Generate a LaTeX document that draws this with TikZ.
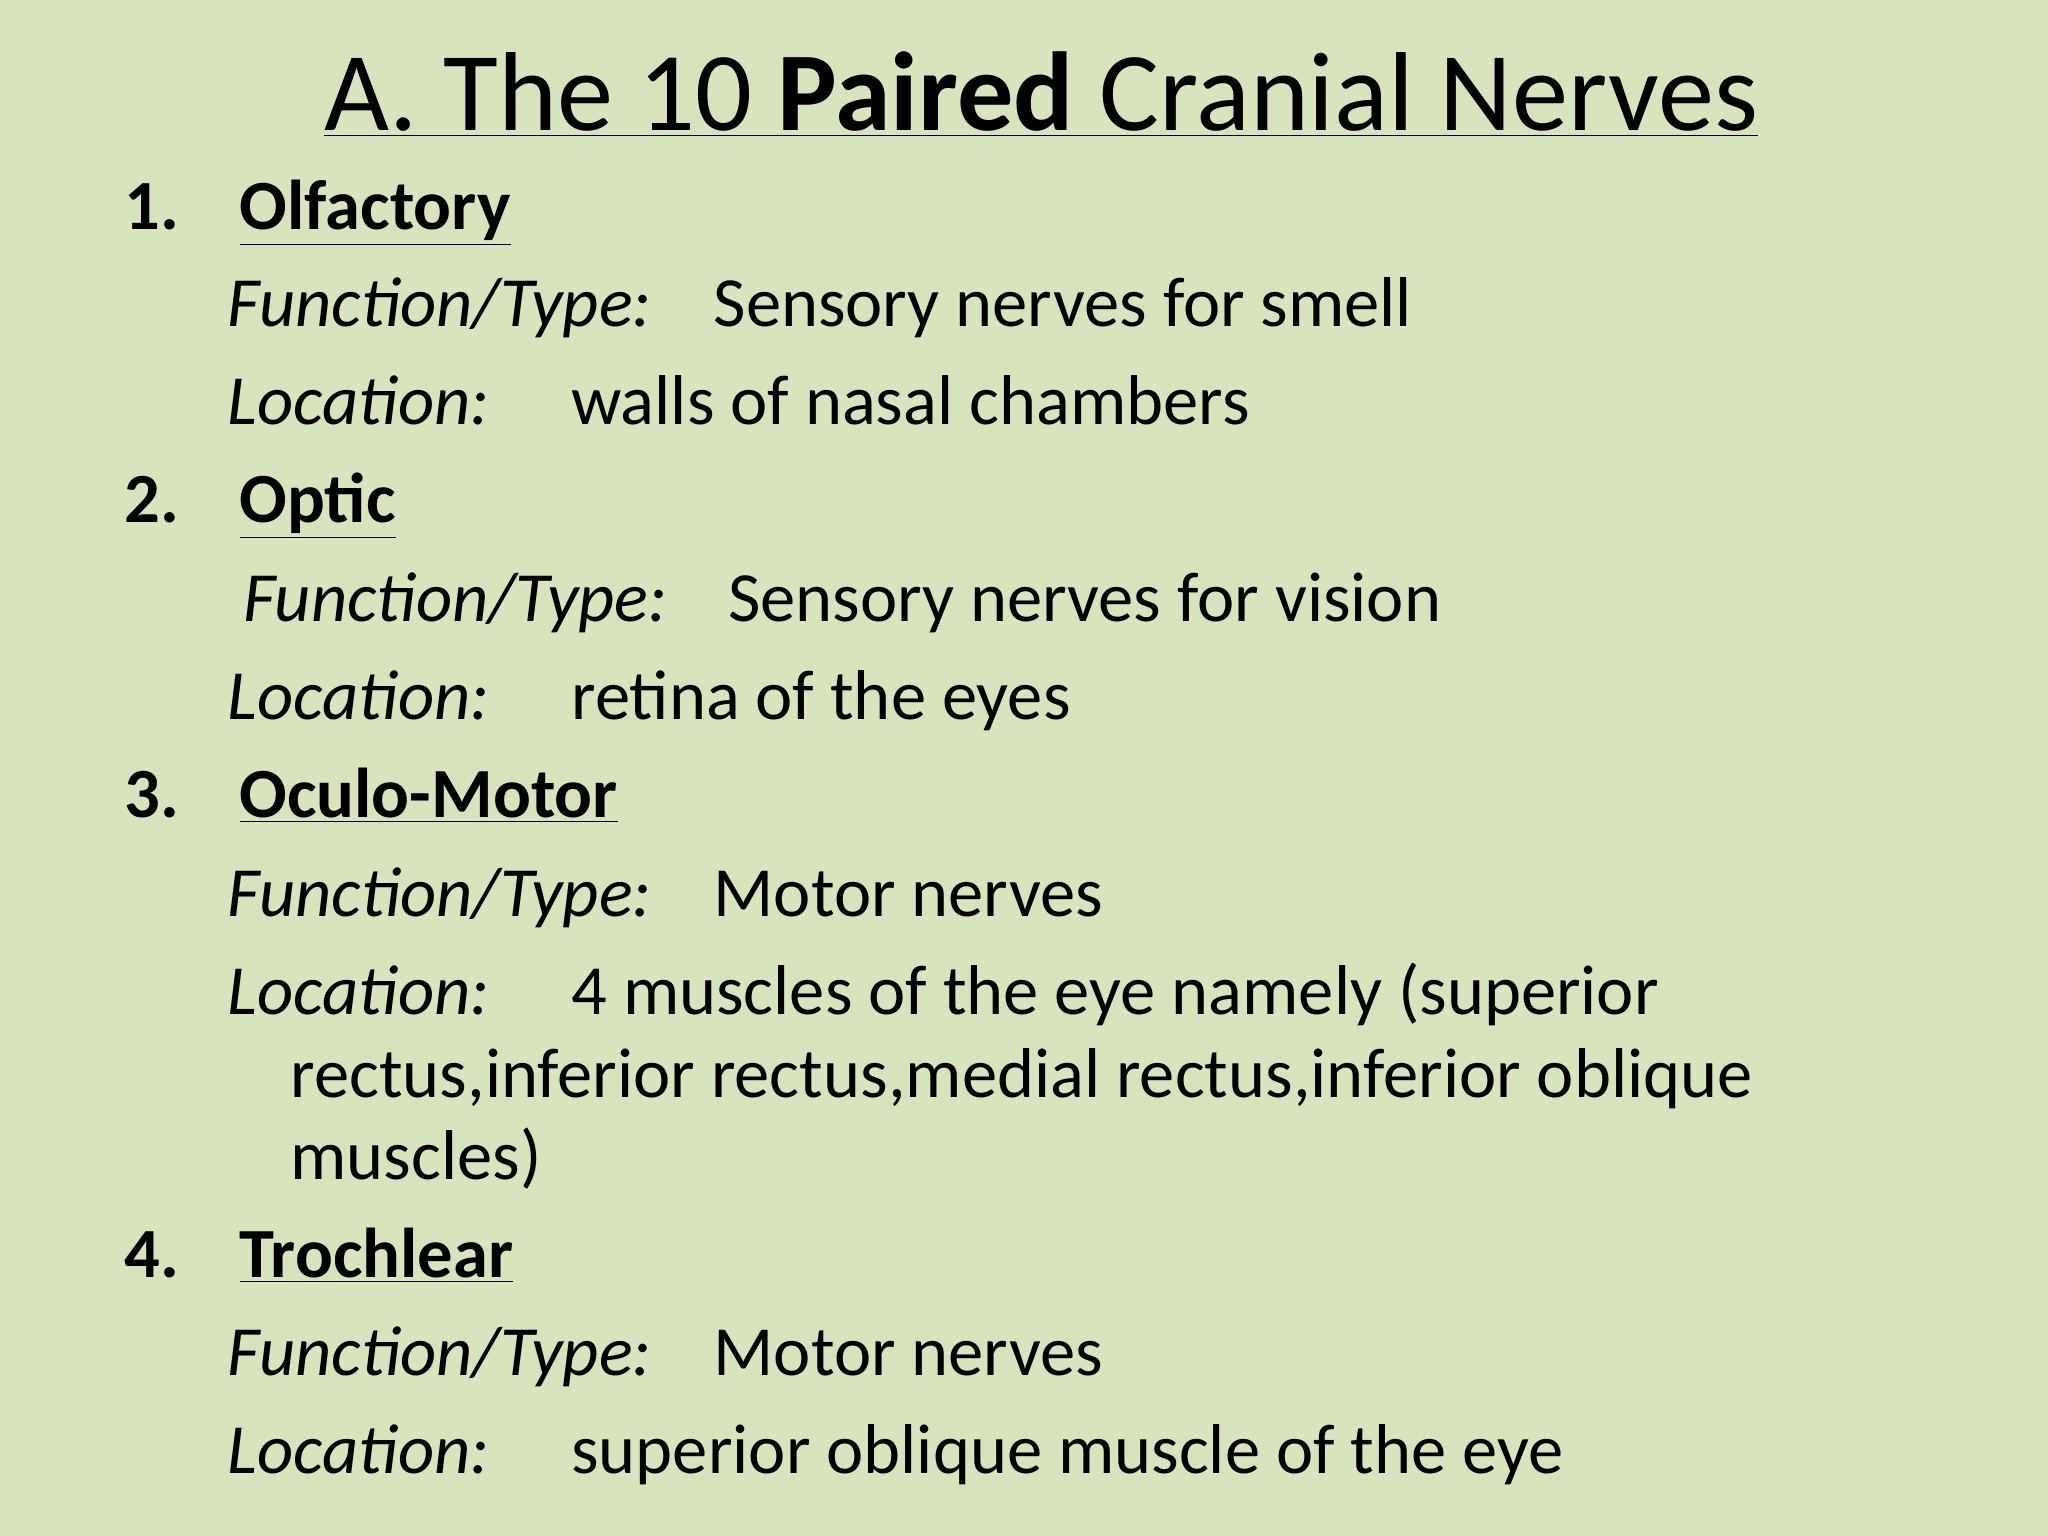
\documentclass[tikz,border=0pt]{standalone}
\usepackage{fontspec}
\setmainfont{Carlito}
\definecolor{bg}{HTML}{D7E4BD}
\tikzset{t/.style={anchor=base west,inner sep=0pt,font=\fontsize{27}{32}\selectfont}}
\begin{document}
\begin{tikzpicture}[x=0.5pt,y=-0.5pt]
\fill[bg] (0,0) rectangle (1568,1176);
\useasboundingbox (0,0) rectangle (1568,1176);
\node[anchor=base,inner sep=0pt,font=\fontsize{43}{50}\selectfont] (title) at (797,100) {\underline{A. The 10 \textbf{Paired} Cranial Nerves}};
% 1
\node[t] (n1) at (95,176) {\textbf{1.}};
\node[t] (h1) at (183,176) {\textbf{\underline{Olfactory}}};
\node[t] (f1) at (174,250) {\textit{Function/Type:}};
\node[t] (f1v) at (546,250) {Sensory nerves for smell};
\node[t] (l1) at (174,325) {\textit{Location:}};
\node[t] (l1v) at (437,325) {walls of nasal chambers};
% 2
\node[t] (n2) at (95,400) {\textbf{2.}};
\node[t] (h2) at (183,400) {\textbf{\underline{Optic}}};
\node[t] (f2) at (186,476) {\textit{Function/Type:}};
\node[t] (f2v) at (557,476) {Sensory nerves for vision};
\node[t] (l2) at (174,551) {\textit{Location:}};
\node[t] (l2v) at (437,551) {retina of the eyes};
% 3
\node[t] (n3) at (95,626) {\textbf{3.}};
\node[t] (h3) at (183,626) {\textbf{\underline{Oculo-Motor}}};
\node[t] (f3) at (174,702) {\textit{Function/Type:}};
\node[t] (f3v) at (546,702) {Motor nerves};
\node[t] (l3) at (174,777) {\textit{Location:}};
\node[t] (l3v) at (437,777) {4 muscles of the eye namely (superior};
\node[t] (l3b) at (222,840) {rectus,inferior rectus,medial rectus,inferior oblique};
\node[t] (l3c) at (222,903) {muscles)};
% 4
\node[t] (n4) at (95,978) {\textbf{4.}};
\node[t] (h4) at (183,978) {\textbf{\underline{Trochlear}}};
\node[t] (f4) at (174,1053) {\textit{Function/Type:}};
\node[t] (f4v) at (546,1053) {Motor nerves};
\node[t] (l4) at (174,1128) {\textit{Location:}};
\node[t] (l4v) at (437,1128) {superior oblique muscle of the eye};
\end{tikzpicture}
\end{document}
